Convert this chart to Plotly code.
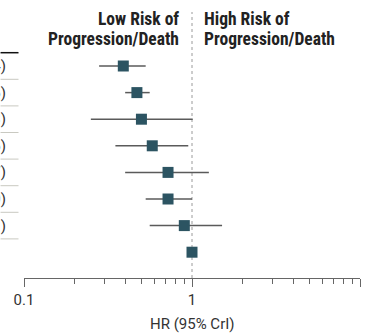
import plotly.graph_objects as go

# Data
hr = [0.39, 0.47, 0.50, 0.58, 0.72, 0.72, 0.90, 1.00]
lo = [0.28, 0.40, 0.25, 0.35, 0.40, 0.53, 0.56, None]
hi = [0.53, 0.56, 1.01, 0.95, 1.26, 1.00, 1.51, None]
row_labels = ["0.39 (0.28-0.54)", "0.47 (0.40-0.56)", "0.50 (0.25-1.03)", "0.58 (0.35-0.96)",
              "0.72 (0.40-1.27)", "0.72 (0.53-1.00)", "0.90 (0.56-1.51)", ""]
hdr_low = ["Low Risk of", "Progression/Death"]
hdr_high = ["High Risk of", "Progression/Death"]
tick_vals = [0.1, 1, 10]
tick_text = ["0.1", "1", "10"]
minor_vals = [0.2, 0.3, 0.4, 0.5, 0.6, 0.7, 0.8, 0.9, 2, 3, 4, 5, 6, 7, 8, 9]

W, H = 367, 334
L, R = 23.5, 360
T, B = 0, 278
row0, step = 66, 26.6

def px_to_paper_x(p):
    return (p - L) / (R - L)

def px_to_paper_y(p):
    return 1 - (p - T) / (B - T)

ymin = (T - row0) / step
ymax = (B - row0) / step
rows = list(range(len(hr)))

fig = go.Figure()

# CI lines
for i in rows:
    if lo[i] is not None:
        fig.add_trace(go.Scatter(x=[lo[i], hi[i]], y=[i, i], mode="lines",
                                 line=dict(color="#5a5a5a", width=1.5),
                                 hoverinfo="skip", showlegend=False))

fig.add_trace(go.Scatter(x=hr, y=rows, mode="markers",
                         marker=dict(symbol="square", size=11, color="#2c5462",
                                     line=dict(width=0)),
                         showlegend=False))

# dotted reference line at HR = 1
fig.add_shape(type="line", xref="x", yref="paper", x0=1, x1=1,
              y0=0, y1=px_to_paper_y(12),
              line=dict(color="#9a9a9a", width=1, dash="dot"), layer="below")

# left table separators
xl0, xl1 = px_to_paper_x(0), px_to_paper_x(18)
fig.add_shape(type="line", xref="paper", yref="y", x0=xl0, x1=xl1, y0=-0.5, y1=-0.5,
              line=dict(color="#111111", width=1.5))
for i in range(len(hr) - 1):
    fig.add_shape(type="line", xref="paper", yref="y", x0=xl0, x1=xl1,
                  y0=i + 0.5, y1=i + 0.5, line=dict(color="#c9c9c1", width=1))

for i, t in enumerate(row_labels):
    if t:
        fig.add_annotation(text=t, xref="paper", yref="y", x=px_to_paper_x(7.5), y=i,
                           xanchor="right", yanchor="middle", showarrow=False,
                           font=dict(family="Roboto", size=15, color="#333333"))

hdr_font = dict(family="Roboto Condensed, Liberation Sans Narrow, DejaVu Sans Condensed, Roboto",
                size=17.5, color="#222222", weight="bold")
for k, ypx in enumerate([18.5, 38.5]):
    fig.add_annotation(text="<b>%s</b>" % hdr_low[k], xref="paper", yref="paper",
                       x=px_to_paper_x(181), y=px_to_paper_y(ypx), xanchor="right",
                       yanchor="middle", showarrow=False, font=hdr_font)
    fig.add_annotation(text="<b>%s</b>" % hdr_high[k], xref="paper", yref="paper",
                       x=px_to_paper_x(202), y=px_to_paper_y(ypx), xanchor="left",
                       yanchor="middle", showarrow=False, font=hdr_font)

fig.add_annotation(text="HR (95% CrI)", xref="paper", yref="paper",
                   x=px_to_paper_x(192), y=px_to_paper_y(324), xanchor="center", yanchor="middle",
                   showarrow=False, font=dict(family="Roboto", size=15, color="#333333"))

fig.update_layout(
    width=W, height=H,
    margin=dict(l=L, r=W - R, t=T, b=H - B, pad=0),
    paper_bgcolor="white", plot_bgcolor="white",
    xaxis=dict(type="log", range=[-1, 1], tickvals=tick_vals, ticktext=tick_text,
               ticks="outside", ticklen=8, tickwidth=1, tickcolor="#666666",
               showline=True, linecolor="#666666", linewidth=1, showgrid=False, zeroline=False,
               tickfont=dict(family="Roboto", size=15, color="#333333"),
               minor=dict(tickvals=minor_vals, ticks="outside", ticklen=5, tickwidth=1,
                          tickcolor="#666666", showgrid=False)),
    yaxis=dict(range=[ymax, ymin], visible=False, showgrid=False, zeroline=False),
)

fig.write_html("out.html", config={"displayModeBar": False},
               post_script="document.body.style.margin='0';document.body.style.overflow='hidden';")
